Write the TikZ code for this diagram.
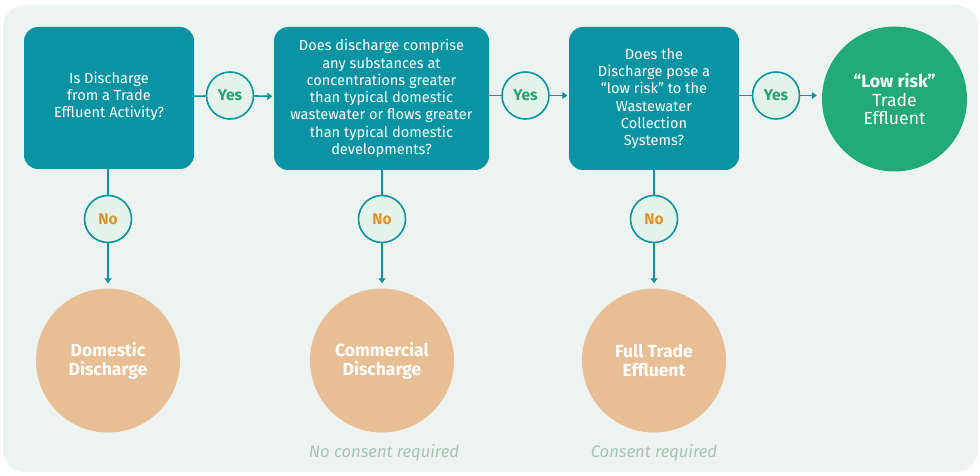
\documentclass[tikz,border=0pt]{standalone}
\usepackage{fontspec}
\setmainfont{Fira Sans}
\usetikzlibrary{arrows.meta}
\definecolor{bgc}{HTML}{EDF3F0}
\definecolor{teal}{HTML}{0A94A3}
\definecolor{yesc}{HTML}{23A36E}
\definecolor{noc}{HTML}{E0922A}
\definecolor{ansfill}{HTML}{E4F2EC}
\definecolor{orangec}{HTML}{E8BE94}
\definecolor{greenc}{HTML}{22AA78}
\definecolor{notec}{HTML}{A8C4B6}
\tikzset{
  qbox/.style={rectangle, rounded corners=14pt, fill=teal, text=white, align=center,
    inner sep=0pt, font=\fontsize{14.6}{17.3}\selectfont},
  ans/.style={circle, draw=teal, line width=1.6pt, fill=ansfill, minimum size=47pt, inner sep=0pt,
    font=\fontsize{15.5}{16}\selectfont\bfseries},
  outc/.style={circle, fill=orangec, text=white, minimum size=144pt, inner sep=0pt, align=center,
    font=\fontsize{17.5}{19}\selectfont\bfseries},
  link/.style={draw=teal, line width=1.6pt},
  arr/.style={link, -{Triangle[length=5pt,width=7pt]}},
  note/.style={text=notec, font=\fontsize{16.6}{18}\selectfont\itshape}
}
\begin{document}
\begin{tikzpicture}[x=1pt,y=-1pt]
\useasboundingbox (0,0) rectangle (980,476);
\fill[bgc, rounded corners=22pt] (3,5) rectangle (978,472);

\node[qbox, minimum width=170pt, minimum height=142pt] (b1) at (109,98)
  {Is Discharge\\from a Trade\\Effluent Activity?\\[-11pt]};
\node[qbox, minimum width=215pt, minimum height=143pt] (b2) at (381.5,98.5)
  {Does discharge comprise\\any substances at\\concentrations greater\\than typical domestic\\wastewater or flows greater\\than typical domestic\\developments?};
\node[qbox, minimum width=170pt, minimum height=143pt] (b3) at (654,98.5)
  {Does the\\Discharge pose a\\“low risk” to the\\Wastewater\\Collection\\Systems?};
\node[circle, fill=greenc, text=white, minimum size=145pt, inner sep=0pt, align=center,
  font=\fontsize{17.6}{18.5}\selectfont] (g) at (894.5,99)
  {\textbf{“Low risk”}\\Trade\\Effluent};

\node[ans, text=yesc] (y1) at (230,95.5) {Yes};
\node[ans, text=yesc] (y2) at (525.5,95.5) {Yes};
\node[ans, text=yesc] (y3) at (776,95.5) {Yes};

\node[ans, text=noc] (n1) at (108,219) {No};
\node[ans, text=noc] (n2) at (382,219) {No};
\node[ans, text=noc] (n3) at (654,219) {No};

\node[outc] (o1) at (108,360.5) {Domestic\\Discharge};
\node[outc] (o2) at (382,360.5) {Commercial\\Discharge};
\node[outc] (o3) at (654,360.5) {Full Trade\\Effluent};

\node[note] (t2) at (384,453) {No consent required};
\node[note] (t3) at (654,453) {Consent required};

\draw[link] (b1) -- (y1);
\draw[arr, shorten >=1.5pt] (y1) -- (b2);
\draw[link] (b2.east |- y2) -- (y2);
\draw[arr, shorten >=1.5pt] (y2) -- (b3.west |- y2);
\draw[link] (b3.east |- y3) -- (y3);
\draw[arr, shorten >=5pt] (y3) -- (g.west |- y3);

\draw[link] (b1.south -| n1) -- (n1);
\draw[arr, shorten >=5pt] (n1) -- (o1);
\draw[link] (b2.south -| n2) -- (n2);
\draw[arr, shorten >=5pt] (n2) -- (o2);
\draw[link] (b3.south -| n3) -- (n3);
\draw[arr, shorten >=5pt] (n3) -- (o3);
\end{tikzpicture}
\end{document}
